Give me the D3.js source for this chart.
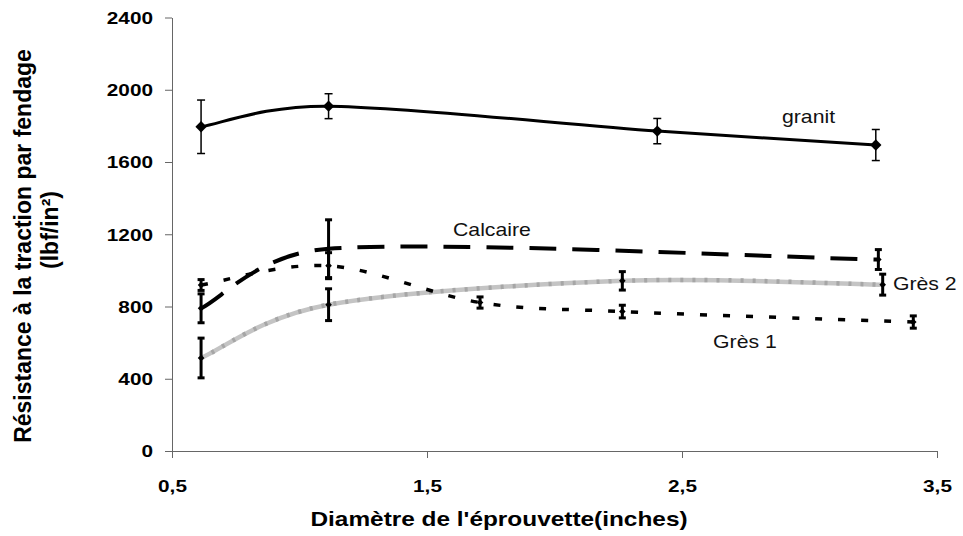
<!DOCTYPE html>
<html>
<head>
<meta charset="utf-8">
<script src="https://cdn.jsdelivr.net/npm/d3@7"></script>
<style>
  body { margin: 0; background: #fff; }
  svg { display: block; font-family: "Liberation Sans", Arial, sans-serif; }
</style>
</head>
<body>
<div id="chart"></div>
<script>
// values
const granitX = [0.614, 1.114, 2.403, 3.26];
const granitY = [1795, 1909, 1771, 1694];
const granitErr = [148, 69, 70, 86];

const calcaireX = [0.614, 1.114, 3.27];
const calcaireY = [790, 1120, 1060];
const calcaireErr = [80, 160, 55];

const gres1X = [0.614, 1.114, 1.708, 2.266, 3.407];
const gres1Y = [919, 1026, 822, 772, 714];
const gres1Err = [30, 72, 31, 35, 34];

const gres2X = [0.614, 1.114, 2.266, 3.287];
const gres2Y = [515, 810, 942, 921];
const gres2Err = [110, 88, 51, 58];

const xTicks = [0.5, 1.5, 2.5, 3.5];
const xTickLabels = ["0,5", "1,5", "2,5", "3,5"];
const yTicks = [0, 400, 800, 1200, 1600, 2000, 2400];
const yTickLabels = ["0", "400", "800", "1200", "1600", "2000", "2400"];

const width = 963;
const height = 536;
const sx = 1.26; // text in the picture is a bit wide

const svg = d3.select("#chart")
    .append("svg")
    .attr("width", width)
    .attr("height", height);

const xScale = d3.scaleLinear().domain([0.5, 3.5]).range([172, 937]);
const yScale = d3.scaleLinear().domain([0, 2400]).range([451, 17.5]);

const toPoints = (xs, ys, errs) => xs.map((x, i) => ({ x: x, y: ys[i], e: errs[i] }));

const series = [
    { name: "Grès 2", pts: toPoints(gres2X, gres2Y, gres2Err), kind: "gray" },
    { name: "granit", pts: toPoints(granitX, granitY, granitErr), kind: "solid" },
    { name: "Calcaire", pts: toPoints(calcaireX, calcaireY, calcaireErr), kind: "long" },
    { name: "Grès 1", pts: toPoints(gres1X, gres1Y, gres1Err), kind: "short" }
];

// axes
const xAxis = d3.axisBottom(xScale)
    .tickValues(xTicks)
    .tickFormat((d, i) => xTickLabels[i])
    .tickSize(7)
    .tickSizeOuter(0);

const yAxis = d3.axisLeft(yScale)
    .tickValues(yTicks)
    .tickFormat((d, i) => yTickLabels[i])
    .tickSize(7)
    .tickSizeOuter(0);

const gx = svg.append("g")
    .attr("transform", `translate(0, ${yScale(0)})`)
    .call(xAxis);

const gy = svg.append("g")
    .attr("transform", `translate(${xScale(0.5)}, 0)`)
    .call(yAxis);

[gx, gy].forEach(g => {
    g.select(".domain").attr("stroke", "#666").attr("stroke-width", 1);
    g.selectAll(".tick line").attr("stroke", "#666");
    g.selectAll(".tick text")
        .attr("fill", "#000")
        .style("font-family", "'Liberation Sans', Arial, sans-serif")
        .style("font-size", "16.5px")
        .style("font-weight", "bold");
});

gx.selectAll(".tick text")
    .attr("y", 41)
    .attr("dy", null)
    .attr("transform", `scale(${sx},1)`);

gy.selectAll(".tick text")
    .attr("x", -19 / sx)
    .attr("dy", "0.36em")
    .attr("transform", `scale(${sx},1)`);

// axis titles
svg.append("text")
    .attr("transform", `translate(499, 526) scale(1.22,1)`)
    .attr("text-anchor", "middle")
    .style("font-size", "20px")
    .style("font-weight", "bold")
    .text("Diamètre de l'éprouvette(inches)");

const yTitle = svg.append("text")
    .attr("transform", "translate(0, 246) rotate(-90)")
    .attr("text-anchor", "middle")
    .style("font-size", "23px")
    .style("font-weight", "bold");

yTitle.append("tspan").attr("x", 0).attr("y", 31).text("Résistance à la traction par fendage");
yTitle.append("tspan").attr("x", 16).attr("y", 58).text("(lbf/in²)");

// smoothed line like a spreadsheet does it: bezier arms 1/6 of the
// neighbour chord, never longer than half the segment
const smoothPath = pts => {
    const p = pts.map(d => [xScale(d.x), yScale(d.y)]);
    const path = d3.path();
    path.moveTo(p[0][0], p[0][1]);
    const dist = (a, b) => Math.hypot(b[0] - a[0], b[1] - a[1]);
    for (let i = 0; i < p.length - 1; i++) {
        const p0 = p[i - 1] || p[i];
        const p1 = p[i];
        const p2 = p[i + 1];
        const p3 = p[i + 2] || p[i + 1];
        const d12 = dist(p1, p2);
        const d02 = dist(p0, p2);
        const d13 = dist(p1, p3);
        const a1 = d02 > 0 ? Math.min(d02 / 6, d12 / 2) / d02 : 0;
        const a2 = d13 > 0 ? Math.min(d13 / 6, d12 / 2) / d13 : 0;
        path.bezierCurveTo(
            p1[0] + (p2[0] - p0[0]) * a1, p1[1] + (p2[1] - p0[1]) * a1,
            p2[0] - (p3[0] - p1[0]) * a2, p2[1] - (p3[1] - p1[1]) * a2,
            p2[0], p2[1]);
    }
    return path.toString();
};

series.forEach(s => {
    const g = svg.append("g").attr("class", "series");
    const d = smoothPath(s.pts);
    if (s.kind === "gray") {
        g.append("path").attr("d", d)
            .attr("fill", "none").attr("stroke", "#c4c4c4").attr("stroke-width", 4.5);
        g.append("path").attr("d", d)
            .attr("fill", "none").attr("stroke", "#a6a6a6").attr("stroke-width", 4.5)
            .attr("stroke-dasharray", "3,9");
    } else {
        const p = g.append("path").attr("d", d)
            .attr("fill", "none").attr("stroke", "#000");
        if (s.kind === "solid") p.attr("stroke-width", 3);
        if (s.kind === "long") p.attr("stroke-width", 4).attr("stroke-dasharray", "27,16");
        if (s.kind === "short") p.attr("stroke-width", 3.5).attr("stroke-dasharray", "7,16");
    }
});

// error bars and markers
series.forEach(s => {
    const thin = s.kind === "solid";
    const capW = thin ? 4 : 3.5;
    const g = svg.append("g");
    const bars = g.selectAll("g.err")
        .data(s.pts)
        .join("g")
        .attr("class", "err")
        .attr("stroke", "#000")
        .attr("stroke-width", thin ? 1.5 : 3);

    bars.append("line")
        .attr("x1", d => xScale(d.x)).attr("x2", d => xScale(d.x))
        .attr("y1", d => yScale(d.y - d.e)).attr("y2", d => yScale(d.y + d.e));
    bars.append("line")
        .attr("x1", d => xScale(d.x) - capW).attr("x2", d => xScale(d.x) + capW)
        .attr("y1", d => yScale(d.y + d.e)).attr("y2", d => yScale(d.y + d.e));
    bars.append("line")
        .attr("x1", d => xScale(d.x) - capW).attr("x2", d => xScale(d.x) + capW)
        .attr("y1", d => yScale(d.y - d.e)).attr("y2", d => yScale(d.y - d.e));

    const marker = d3.symbol().type(d3.symbolSquare).size(thin ? 64 : 22);
    g.selectAll("path.mk")
        .data(s.pts)
        .join("path")
        .attr("class", "mk")
        .attr("d", marker)
        .attr("fill", "#000")
        .attr("transform", d => `translate(${xScale(d.x)}, ${yScale(d.y)}) rotate(45)`);
});

// series labels
const labels = [
    { text: "granit", x: 2.892, y: 1816 },
    { text: "Calcaire", x: 1.602, y: 1190 },
    { text: "Grès 2", x: 3.327, y: 891 },
    { text: "Grès 1", x: 2.622, y: 570 }
];

svg.selectAll("text.lbl")
    .data(labels)
    .join("text")
    .attr("class", "lbl")
    .attr("transform", d => `translate(${xScale(d.x)}, ${yScale(d.y)}) scale(1.18,1)`)
    .style("font-size", "18px")
    .attr("fill", "#111")
    .text(d => d.text);
</script>
</body>
</html>
